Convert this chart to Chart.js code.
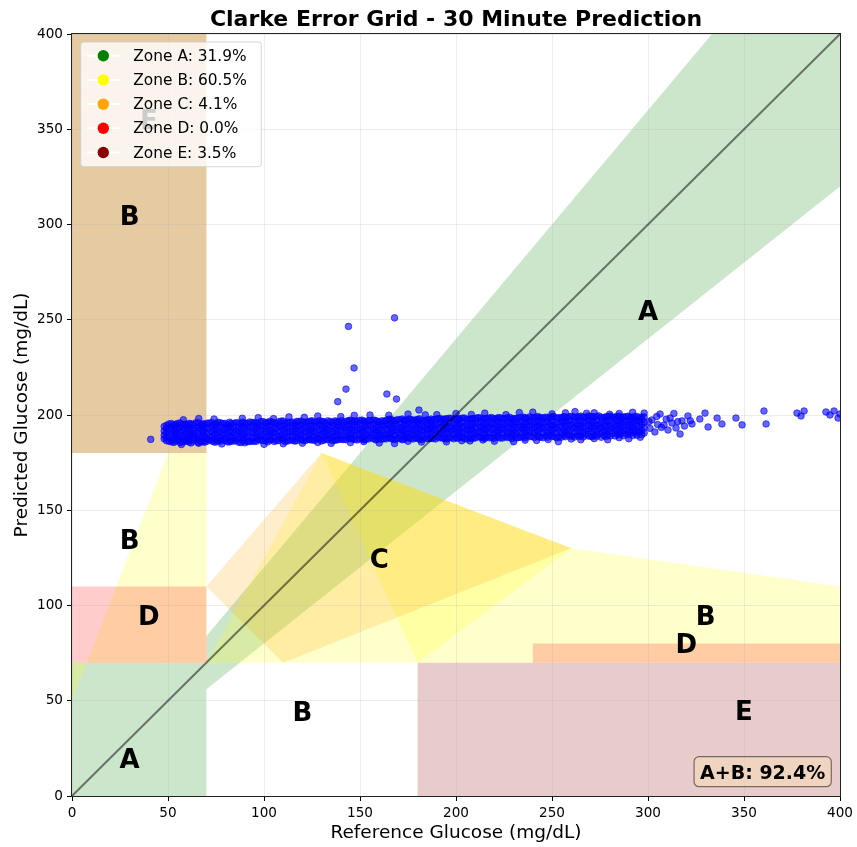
<!DOCTYPE html>
<html>
<head>
<meta charset="utf-8">
<script src="https://cdn.jsdelivr.net/npm/chart.js@4.4.1/dist/chart.umd.min.js"></script>
<style>
  html, body { margin: 0; padding: 0; background: #ffffff; }
  canvas { display: block; }
</style>
</head>
<body>
<canvas id="grid" width="857" height="847"></canvas>
<script>
// ---- Zone summary ----
const zoneNames = ['Zone A', 'Zone B', 'Zone C', 'Zone D', 'Zone E'];
const zonePercents = [31.9, 60.5, 4.1, 0.0, 3.5];
const zoneABPercent = 92.4;

// ---- Axis ticks (mg/dL) ----
const tickValues = [0, 50, 100, 150, 200, 250, 300, 350, 400];

// ---- Zone boundaries, [reference, predicted] in mg/dL ----
const zoneA = [[0, 0], [70, 0], [70, 56], [400, 320], [400, 400], [333.3, 400], [70, 84], [70, 70], [0, 70]];
const zoneBUpper = [[0, 50], [50, 180], [70, 180], [70, 70], [0, 70]];
const zoneBLower = [[70, 70], [130, 180], [260, 130], [400, 110], [400, 70]];
const zoneBWedge = [[130, 180], [260, 130], [180, 70]];
const zoneC = [[70, 110], [130, 180], [260, 130], [110, 70]];
const zoneDUpper = [[0, 70], [70, 70], [70, 110], [0, 110]];
const zoneDLower = [[240, 70], [400, 70], [400, 80], [240, 80]];
const zoneEUpper = [[0, 180], [70, 180], [70, 400], [0, 400]];
const zoneELower = [[180, 0], [400, 0], [400, 70], [180, 70]];

// ---- Zone letters ----
const zoneLetters = ['A', 'A', 'B', 'B', 'B', 'B', 'C', 'D', 'D', 'E', 'E'];
const letterRef   = [30, 300, 30, 120, 330, 30, 160, 40, 320, 350, 40];
const letterPred  = [19.6, 254.6, 134.5, 44.5, 94.6, 304.5, 124.5, 94.9, 79.8, 45, 355];

// ---- Identity line ----
const diagRef = [0, 400];
const diagPred = [0, 400];

// ---- Predictions: main band, first set of reference values with four layers ----
const bandRef = [48, 50.5, 53, 55, 57.5, 60, 62, 64.5, 67, 69,
  71.5, 74, 76, 78.5, 81, 83, 85.5, 88, 90, 92.5,
  95, 97, 99.5, 102, 104, 106.5, 109, 111, 113.5, 116,
  118, 120.5, 123, 125, 127.5, 130, 132, 134.5, 137, 139,
  141.5, 144, 146, 148.5, 151, 153, 155.5, 158, 160, 162.5,
  165, 167, 169.5, 172, 174, 176.5, 179, 181, 183.5, 186,
  188, 190.5, 193, 195, 197.5, 200, 202, 204.5, 207, 209,
  211.5, 214, 216, 218.5, 221, 223, 225.5, 228, 230, 232.5,
  235, 237, 239.5, 242, 244, 246.5, 249, 251, 253.5, 256,
  258, 260.5, 263, 265, 267.5, 270, 272, 274.5, 277, 279,
  281.5, 284, 286, 288.5, 291, 293, 295.5, 298];
const predLow = [187.5, 186.2, 185.6, 186.8, 185.9, 186.4, 185.3, 186.9, 186.1, 185.7,
  186.9, 185.8, 186.5, 187.1, 185.9, 186.3, 186.8, 185.5, 186.6, 186.1,
  186.2, 187.3, 186.6, 185.9, 187.0, 186.5, 187.4, 186.1, 186.9, 186.3,
  187.8, 186.6, 187.3, 186.9, 187.6, 186.4, 187.1, 187.9, 186.8, 187.4,
  187.1, 188.0, 187.4, 186.9, 187.8, 187.3, 188.2, 187.0, 187.7, 187.5,
  188.0, 187.3, 187.8, 187.0, 188.2, 187.6, 188.0, 187.3, 188.1, 187.5,
  187.7, 188.5, 187.9, 187.4, 188.2, 188.0, 188.6, 187.6, 188.3, 187.8,
  188.8, 188.1, 188.6, 188.3, 189.0, 187.9, 188.7, 188.4, 189.1, 188.2,
  188.6, 189.2, 188.7, 189.4, 188.4, 189.0, 189.5, 188.8, 188.5, 189.1,
  189.7, 189.0, 189.5, 189.2, 189.9, 188.9, 189.4, 190.0, 189.3, 189.6,
  190.3, 189.9, 190.5, 190.1, 190.7, 190.4, 191.0, 190.5];
const predMidLow = [189.3, 188.7, 189.4, 188.9, 189.2, 188.6, 189.5, 189.0, 188.8, 189.3,
  189.0, 189.7, 189.2, 189.9, 189.5, 188.9, 189.6, 189.3, 189.8, 189.1,
  190.2, 189.5, 190.0, 189.6, 190.3, 189.9, 189.4, 190.1, 189.7, 190.4,
  189.9, 190.5, 190.0, 190.7, 190.3, 189.8, 190.6, 190.1, 190.4, 189.9,
  190.9, 190.3, 190.8, 190.5, 191.1, 190.2, 190.7, 191.0, 190.4, 190.8,
  190.7, 191.3, 190.9, 191.4, 190.6, 191.2, 191.0, 190.8, 191.5, 191.1,
  191.7, 191.2, 191.5, 191.0, 191.8, 191.3, 191.6, 191.1, 191.9, 191.4,
  191.5, 192.1, 191.7, 192.3, 191.6, 191.9, 192.2, 191.4, 192.0, 191.8,
  192.5, 191.9, 192.4, 192.0, 192.7, 192.1, 192.3, 192.6, 191.9, 192.4,
  192.3, 192.9, 192.5, 193.0, 192.4, 192.8, 192.6, 193.1, 192.2, 192.7,
  193.2, 192.8, 193.4, 193.0, 193.5, 192.9, 193.3, 193.6];
const predMidHigh = [191.6, 192.2, 191.8, 192.4, 191.9, 192.3, 191.7, 192.1, 192.5, 191.9,
  192.7, 192.1, 192.5, 192.2, 192.8, 192.3, 192.0, 192.6, 192.4, 192.9,
  192.5, 193.1, 192.7, 193.0, 192.4, 192.9, 193.2, 192.6, 193.0, 192.7,
  193.5, 192.9, 193.3, 193.0, 193.6, 193.1, 192.8, 193.4, 193.2, 193.7,
  193.3, 193.9, 193.5, 193.8, 193.2, 193.7, 194.0, 193.4, 193.6, 193.9,
  194.3, 193.8, 194.1, 193.7, 194.4, 194.0, 193.9, 194.2, 193.6, 194.5,
  194.1, 194.7, 194.3, 194.6, 194.0, 194.5, 194.8, 194.2, 194.4, 194.9,
  195.1, 194.5, 194.9, 195.2, 194.6, 195.0, 194.7, 195.3, 194.8, 195.1,
  194.9, 195.5, 195.1, 195.4, 195.0, 195.6, 195.2, 194.8, 195.3, 195.7,
  195.9, 195.3, 195.7, 195.4, 196.0, 195.5, 195.8, 195.2, 195.6, 196.1,
  195.7, 196.2, 195.9, 196.3, 195.8, 196.1, 196.4, 196.0];
const predHigh = [194.0, 195.3, 194.8, 195.6, 195.1, 194.7, 195.4, 195.9, 194.9, 195.2,
  195.8, 195.1, 196.2, 195.5, 194.9, 195.7, 196.0, 195.3, 195.6, 196.3,
  196.1, 195.4, 196.5, 195.9, 196.3, 195.6, 196.8, 195.7, 196.2, 195.5,
  196.6, 195.9, 196.4, 197.0, 196.1, 196.7, 195.8, 196.5, 196.9, 196.3,
  196.2, 197.1, 196.8, 196.4, 197.3, 196.5, 196.9, 197.2, 196.3, 196.7,
  197.7, 197.1, 197.5, 197.9, 197.2, 197.6, 197.3, 198.0, 197.0, 197.4,
  197.5, 198.2, 197.7, 198.0, 198.3, 197.6, 197.9, 198.4, 197.8, 198.1,
  198.6, 197.9, 198.3, 198.7, 198.0, 198.5, 198.2, 198.8, 198.1, 198.4,
  198.9, 198.3, 198.7, 199.1, 198.5, 198.8, 198.4, 199.2, 198.6, 199.0,
  198.7, 199.3, 198.9, 199.4, 198.8, 199.2, 199.0, 199.5, 198.7, 199.1,
  198.9, 199.3, 198.7, 199.1, 198.8, 199.2, 198.6, 199.0];

// ---- Predictions: main band, second set of reference values with five layers ----
const bandRefMid = [49.2, 51.8, 54, 56.3, 58.8, 61, 63.3, 65.7, 68, 70.3,
  72.8, 75, 77.3, 79.7, 82, 84.3, 86.8, 89, 91.3, 93.7,
  96, 98.3, 100.8, 103, 105.3, 107.7, 110, 112.3, 114.8, 117,
  119.3, 121.7, 124, 126.3, 128.8, 131, 133.3, 135.7, 138, 140.3,
  142.8, 145, 147.3, 149.7, 152, 154.3, 156.8, 159, 161.3, 163.7,
  166, 168.3, 170.8, 173, 175.3, 177.7, 180, 182.3, 184.8, 187,
  189.3, 191.7, 194, 196.3, 198.8, 201, 203.3, 205.7, 208, 210.3,
  212.8, 215, 217.3, 219.7, 222, 224.3, 226.8, 229, 231.3, 233.7,
  236, 238.3, 240.8, 243, 245.3, 247.7, 250, 252.3, 254.8, 257,
  259.3, 261.7, 264, 266.3, 268.8, 271, 273.3, 275.7, 278, 280.3,
  282.8, 285, 287.3, 289.7, 292, 294.3, 296.8];
const predOuterLow = [186.5, 185.9, 186.3, 185.6, 186.1, 185.8, 186.4, 185.5, 186.0, 186.2,
  186.4, 185.8, 186.2, 186.6, 185.9, 186.3, 185.7, 186.5, 186.0, 186.2,
  186.2, 186.8, 186.4, 186.9, 186.1, 186.6, 187.0, 186.3, 186.7, 186.5,
  187.2, 186.6, 187.0, 186.7, 187.3, 186.8, 187.1, 186.5, 186.9, 187.2,
  187.0, 187.6, 187.2, 187.5, 186.9, 187.4, 187.7, 187.1, 187.3, 187.5,
  187.8, 187.2, 187.6, 187.3, 187.9, 187.4, 187.7, 187.1, 187.5, 187.8,
  187.4, 188.0, 187.6, 187.9, 187.5, 187.8, 188.1, 187.4, 187.7, 188.0,
  188.3, 187.7, 188.1, 187.8, 188.4, 187.9, 188.2, 187.6, 188.0, 188.3,
  188.0, 188.6, 188.2, 188.5, 188.1, 188.4, 188.7, 188.0, 188.3, 188.6,
  188.9, 188.4, 188.8, 188.5, 189.0, 188.6, 188.9, 188.3, 188.7, 189.0,
  189.0, 189.5, 189.1, 189.6, 189.2, 189.4, 189.7];
const predCenterLow = [188.1, 187.4, 188.0, 187.6, 187.9, 187.3, 188.2, 187.5, 187.8, 187.6,
  188.4, 187.8, 188.3, 187.9, 188.5, 188.0, 187.7, 188.2, 188.6, 187.9,
  188.2, 188.8, 188.4, 188.9, 188.3, 188.7, 188.1, 188.6, 188.9, 188.4,
  189.2, 188.6, 189.0, 188.7, 189.3, 188.8, 189.1, 188.5, 189.2, 188.9,
  189.0, 189.5, 189.2, 189.6, 188.9, 189.4, 189.7, 189.1, 189.3, 189.5,
  189.9, 189.4, 189.8, 189.5, 190.1, 189.6, 189.9, 189.3, 189.8, 190.0,
  189.8, 190.3, 190.0, 190.4, 189.9, 190.2, 190.5, 189.8, 190.1, 190.3,
  190.7, 190.2, 190.6, 190.3, 190.8, 190.4, 190.6, 190.1, 190.5, 190.7,
  190.6, 191.1, 190.8, 191.2, 190.7, 191.0, 191.3, 190.6, 190.9, 191.1,
  191.5, 191.0, 191.4, 191.1, 191.6, 191.2, 191.5, 191.0, 191.3, 191.6,
  191.9, 191.5, 191.8, 191.4, 192.0, 191.6, 191.9];
const predCenter = [190.8, 190.2, 190.6, 190.9, 190.3, 190.7, 190.1, 190.5, 190.9, 190.4,
  191.2, 190.6, 191.0, 190.7, 191.3, 190.8, 191.1, 190.5, 191.2, 190.9,
  191.0, 191.6, 191.2, 191.5, 190.9, 191.4, 191.7, 191.1, 191.3, 191.6,
  191.9, 191.4, 191.8, 191.5, 192.0, 191.6, 191.9, 191.3, 191.7, 192.1,
  191.8, 192.4, 192.0, 192.3, 191.9, 192.2, 192.5, 191.8, 192.1, 192.4,
  192.7, 192.2, 192.6, 192.3, 192.8, 192.4, 192.7, 192.1, 192.5, 192.9,
  192.6, 193.2, 192.8, 193.1, 192.7, 193.0, 193.3, 192.6, 192.9, 193.2,
  193.5, 193.0, 193.4, 193.1, 193.6, 193.2, 193.5, 192.9, 193.3, 193.7,
  193.4, 194.0, 193.6, 193.9, 193.5, 193.8, 194.1, 193.4, 193.7, 194.0,
  194.3, 193.8, 194.2, 193.9, 194.4, 194.0, 194.3, 193.7, 194.1, 194.5,
  194.2, 194.7, 194.4, 194.8, 194.3, 194.6, 194.9];
const predCenterHigh = [193.0, 193.6, 193.2, 193.7, 193.1, 193.5, 193.0, 193.4, 193.8, 193.2,
  193.9, 193.4, 193.8, 193.5, 194.0, 193.6, 193.3, 193.9, 193.7, 194.1,
  193.8, 194.3, 194.0, 194.4, 193.9, 194.2, 194.5, 193.9, 194.1, 194.3,
  194.7, 194.2, 194.6, 194.3, 194.8, 194.4, 194.6, 194.2, 194.7, 194.5,
  194.6, 195.1, 194.8, 195.2, 194.7, 195.0, 195.3, 194.7, 194.9, 195.1,
  195.5, 195.1, 195.4, 195.0, 195.6, 195.2, 195.5, 195.1, 195.3, 195.6,
  195.4, 195.9, 195.6, 196.0, 195.5, 195.8, 196.1, 195.5, 195.7, 195.9,
  196.3, 195.8, 196.2, 195.9, 196.4, 196.0, 196.2, 195.8, 196.1, 196.3,
  196.2, 196.7, 196.4, 196.8, 196.3, 196.6, 196.9, 196.2, 196.5, 196.7,
  197.1, 196.6, 197.0, 196.7, 197.2, 196.8, 197.1, 196.6, 196.9, 197.2,
  197.5, 197.0, 197.4, 197.1, 197.6, 197.2, 197.5];
const predOuterHigh = [194.6, 195.5, 195.0, 195.8, 195.2, 195.6, 195.1, 195.9, 195.4, 195.7,
  196.0, 195.4, 195.9, 195.6, 196.2, 195.5, 195.8, 196.3, 195.7, 196.1,
  195.9, 196.5, 196.1, 196.7, 196.0, 196.4, 196.8, 196.2, 196.3, 196.6,
  196.8, 196.3, 196.7, 196.4, 197.0, 196.5, 196.9, 196.2, 196.6, 197.1,
  196.7, 197.3, 196.9, 197.2, 196.8, 197.1, 197.4, 196.7, 197.0, 197.3,
  197.8, 197.2, 197.6, 197.3, 197.9, 197.4, 197.7, 197.1, 197.5, 197.9,
  197.7, 198.2, 197.9, 198.3, 197.8, 198.1, 198.4, 197.7, 198.0, 198.3,
  198.5, 198.0, 198.4, 198.1, 198.6, 198.2, 198.5, 197.9, 198.3, 198.7,
  198.5, 199.0, 198.6, 199.1, 198.5, 198.8, 199.2, 198.4, 198.7, 199.0,
  199.2, 198.8, 199.1, 198.9, 199.4, 199.0, 199.3, 198.7, 199.1, 199.4,
  198.9, 199.3, 199.0, 199.4, 198.8, 199.2, 198.9];

// ---- Predictions: scattered edge points of the band ----
const fringeRef = [58, 66, 74, 88.7, 97, 105, 113, 121, 128, 140, 147, 155.2, 165, 175, 184, 190,
  200, 208, 215, 226, 233, 240, 250, 257, 262, 268, 272, 280, 285, 292, 298,
  57, 66, 78, 90, 100, 110, 120, 128, 135, 145, 152, 160, 168, 175, 182, 195,
  203, 207.3, 214, 220, 230, 236, 242, 248, 253.3, 260, 265, 272, 279, 285, 290, 296];
const fringePred = [197.5, 198.2, 197.9, 198.3, 198.6, 198.1, 199.0, 198.8, 199.5, 199.2, 199.8, 200.0, 199.9, 200.5, 200.1, 200.2,
  200.8, 200.3, 201.0, 200.2, 201.3, 201.5, 200.6, 201.1, 201.8, 200.9, 201.2, 200.4, 200.8, 201.4, 201.0,
  184.5, 185.2, 184.8, 185.4, 184.6, 184.9, 185.2, 185.6, 185.1, 185.5, 186.0, 185.3, 185.0, 186.2, 185.8, 185.9,
  186.5, 186.4, 186.9, 186.2, 186.0, 186.8, 186.6, 187.1, 186.0, 187.4, 187.0, 187.6, 187.0, 188.1, 187.5, 188.3];

// ---- Predictions: high-glucose tail ----
const tailRef = [300.5, 301, 302, 303.6, 304.5, 305, 306.3, 307, 308.3, 309.5, 310.4, 311.5, 312.5, 313.5,
  314.6, 315.5, 316.7, 317.7, 319, 320.8, 322, 322.9,
  327, 329.7, 331.3, 336, 338.5, 345.8, 349, 360.4, 361.5, 377.6, 379.7, 381.3, 392.7, 394.8, 396.9, 399, 400];
const tailPred = [196.5, 193.0, 197.4, 191.1, 199.2, 195.0, 200.5, 193.5, 194.7, 197.8, 192.1, 198.4, 195.8, 200.8,
  193.2, 196.5, 190.0, 196.9, 194.2, 199.5, 197.0, 195.3,
  197.9, 201.0, 193.7, 198.4, 195.3, 198.4, 194.8, 202.1, 195.3, 201.0, 199.5, 202.1, 201.6, 200.0, 202.1, 198.4, 200.5];

// ---- Predictions: isolated outliers ----
const outlierRef = [41, 138.4, 142.7, 146.9, 144, 168, 164, 169, 180.7];
const outlierPred = [187.2, 207, 213.6, 224.7, 246.5, 251, 211, 208.4, 202.6];

// ---- Build point lists for the library ----
const predictionPoints = [];
[predLow, predMidLow, predMidHigh, predHigh].forEach(layer => {
  layer.forEach((p, i) => predictionPoints.push({ x: bandRef[i], y: p }));
});
[predOuterLow, predCenterLow, predCenter, predCenterHigh, predOuterHigh].forEach(layer => {
  layer.forEach((p, i) => predictionPoints.push({ x: bandRefMid[i], y: p }));
});
fringeRef.forEach((r, i) => predictionPoints.push({ x: r, y: fringePred[i] }));
tailRef.forEach((r, i) => predictionPoints.push({ x: r, y: tailPred[i] }));
outlierRef.forEach((r, i) => predictionPoints.push({ x: r, y: outlierPred[i] }));
const diagonalPoints = diagRef.map((r, i) => ({ x: r, y: diagPred[i] }));

const FONT = "'DejaVu Sans', 'Liberation Sans', sans-serif";
const zoneColors = ['rgb(0,128,0)', 'rgb(255,255,0)', 'rgb(255,165,0)', 'rgb(255,0,0)', 'rgb(139,0,0)'];

// Shaded zone polygons, drawn beneath the grid
const zoneLayers = [
  { poly: zoneEUpper, fill: 'rgba(190,123,22,0.4)' },
  { poly: zoneELower, fill: 'rgba(139,0,0,0.2)' },
  { poly: zoneA, fill: 'rgba(0,128,0,0.2)' },
  { poly: zoneBUpper, fill: 'rgba(255,255,0,0.2)' },
  { poly: zoneBLower, fill: 'rgba(255,255,0,0.2)' },
  { poly: zoneBWedge, fill: 'rgba(255,255,0,0.2)' },
  { poly: zoneC, fill: 'rgba(255,165,0,0.2)' },
  { poly: zoneDUpper, fill: 'rgba(255,0,0,0.2)' },
  { poly: zoneDLower, fill: 'rgba(255,0,0,0.2)' }
];

const zonePlugin = {
  id: 'zones',
  beforeDraw(chart) {
    const { ctx, chartArea: a, scales: { x, y } } = chart;
    ctx.save();
    ctx.beginPath();
    ctx.rect(a.left, a.top, a.right - a.left, a.bottom - a.top);
    ctx.clip();
    zoneLayers.forEach(z => {
      ctx.beginPath();
      z.poly.forEach(([r, p], i) => {
        const px = x.getPixelForValue(r), py = y.getPixelForValue(p);
        if (i === 0) ctx.moveTo(px, py); else ctx.lineTo(px, py);
      });
      ctx.closePath();
      ctx.fillStyle = z.fill;
      ctx.fill();
    });
    ctx.restore();
  }
};

function roundRect(ctx, x, y, w, h, r) {
  ctx.beginPath();
  ctx.moveTo(x + r, y);
  ctx.lineTo(x + w - r, y);
  ctx.arcTo(x + w, y, x + w, y + r, r);
  ctx.lineTo(x + w, y + h - r);
  ctx.arcTo(x + w, y + h, x + w - r, y + h, r);
  ctx.lineTo(x + r, y + h);
  ctx.arcTo(x, y + h, x, y + h - r, r);
  ctx.lineTo(x, y + r);
  ctx.arcTo(x, y, x + r, y, r);
  ctx.closePath();
}

const spinePlugin = {
  id: 'spines',
  afterDatasetsDraw(chart) {
    const { ctx, chartArea: a } = chart;
    ctx.save();
    ctx.strokeStyle = '#222';
    ctx.lineWidth = 1;
    ctx.strokeRect(a.left - 0.5, a.top - 0.5, a.right - a.left + 1, a.bottom - a.top + 1);
    ctx.restore();
  }
};

const textPlugin = {
  id: 'texts',
  afterDraw(chart) {
    const { ctx, chartArea: a, scales: { x, y } } = chart;
    ctx.save();

    // zone letters
    const ls = 26;
    ctx.font = `bold ${ls}px ${FONT}`;
    ctx.fillStyle = '#000';
    ctx.textAlign = 'center';
    ctx.textBaseline = 'alphabetic';
    zoneLetters.forEach((t, i) => {
      ctx.fillText(t, x.getPixelForValue(letterRef[i]), y.getPixelForValue(letterPred[i]) + ls * 0.365);
    });

    // legend
    const lx = a.left + 8.7, ly = a.top + 8, lw = 180.6, lh = 124.7;
    roundRect(ctx, lx, ly, lw, lh, 3);
    ctx.fillStyle = 'rgba(255,255,255,0.8)';
    ctx.fill();
    ctx.strokeStyle = 'rgba(204,204,204,0.8)';
    ctx.lineWidth = 1;
    ctx.stroke();
    ctx.font = `15.4px ${FONT}`;
    ctx.textAlign = 'left';
    ctx.textBaseline = 'middle';
    zoneNames.forEach((n, i) => {
      const cy = ly + 13.7 + i * 24.2;
      ctx.strokeStyle = '#ffffff';
      ctx.lineWidth = 2;
      ctx.beginPath();
      ctx.moveTo(lx + 6, cy);
      ctx.lineTo(lx + 40, cy);
      ctx.stroke();
      ctx.beginPath();
      ctx.arc(lx + 22.6, cy, 5.7, 0, Math.PI * 2);
      ctx.fillStyle = zoneColors[i];
      ctx.fill();
      ctx.fillStyle = '#000';
      ctx.fillText(`${n}: ${zonePercents[i].toFixed(1)}%`, lx + 52.6, cy + 1);
    });

    // A+B summary box
    ctx.font = `bold 19px ${FONT}`;
    const label = `A+B: ${zoneABPercent.toFixed(1)}%`;
    const tw = ctx.measureText(label).width;
    const bw = tw + 12, bh = 30;
    const bx = a.right - 8.7 - bw, by = a.bottom - 9.3 - bh;
    roundRect(ctx, bx, by, bw, bh, 5);
    ctx.fillStyle = 'rgba(245,222,179,0.5)';
    ctx.fill();
    ctx.strokeStyle = 'rgba(0,0,0,0.5)';
    ctx.lineWidth = 1.2;
    ctx.stroke();
    ctx.fillStyle = '#000';
    ctx.textAlign = 'center';
    ctx.textBaseline = 'alphabetic';
    ctx.fillText(label, bx + bw / 2, by + bh / 2 + 19 * 0.365);

    // title
    ctx.font = `bold 22px ${FONT}`;
    ctx.fillText('Clarke Error Grid - 30 Minute Prediction', (a.left + a.right) / 2, 26);

    // axis titles
    ctx.font = `18.5px ${FONT}`;
    ctx.fillText('Reference Glucose (mg/dL)', (a.left + a.right) / 2, 838);
    ctx.translate(27, (a.top + a.bottom) / 2);
    ctx.rotate(-Math.PI / 2);
    ctx.fillText('Predicted Glucose (mg/dL)', 0, 0);
    ctx.restore();
  }
};

const axisOptions = (fit) => ({
  type: 'linear',
  min: tickValues[0],
  max: tickValues[tickValues.length - 1],
  afterBuildTicks(s) { s.ticks = tickValues.map(v => ({ value: v })); },
  ticks: { color: '#000', font: { family: FONT, size: 13.6 }, padding: 4, maxRotation: 0, autoSkip: false },
  grid: { color: 'rgba(176,176,176,0.3)', lineWidth: 0.8, tickColor: '#000', tickLength: 5, tickWidth: 1 },
  border: { display: false },
  afterFit: fit
});

new Chart(document.getElementById('grid'), {
  type: 'scatter',
  data: {
    datasets: [
      {
        type: 'line',
        data: diagonalPoints,
        borderColor: 'rgba(0,0,0,0.5)',
        borderWidth: 2,
        pointRadius: 0,
        fill: false,
        order: 0
      },
      {
        data: predictionPoints,
        backgroundColor: 'rgba(0,0,255,0.6)',
        borderColor: 'rgba(0,0,255,0.6)',
        borderWidth: 1,
        pointRadius: 3.3,
        order: 1
      }
    ]
  },
  options: {
    responsive: false,
    animation: false,
    devicePixelRatio: 1,
    layout: { padding: { top: 34, right: 17, left: 0, bottom: 0 } },
    plugins: { legend: { display: false }, tooltip: { enabled: false }, title: { display: false } },
    scales: {
      x: axisOptions(s => { s.height = 51; }),
      y: axisOptions(s => { s.width = 72; })
    }
  },
  plugins: [zonePlugin, spinePlugin, textPlugin]
});
</script>
</body>
</html>
